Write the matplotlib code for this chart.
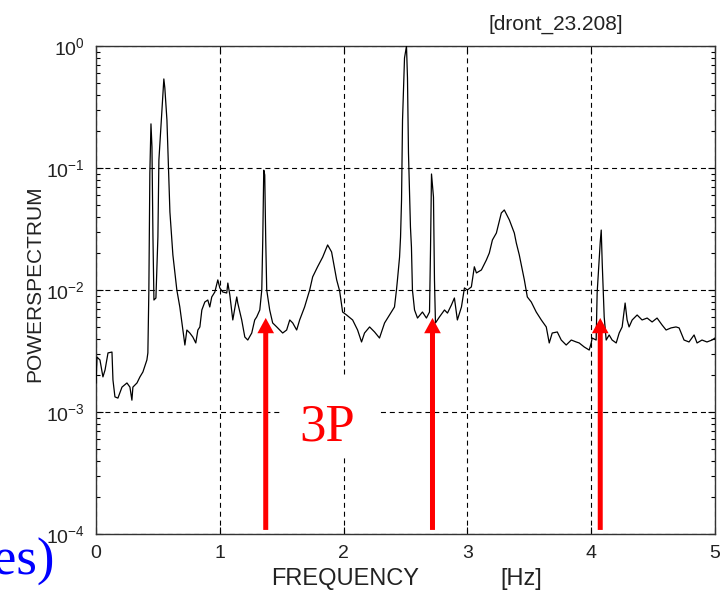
import matplotlib
matplotlib.use("Agg")
import matplotlib.pyplot as plt
from matplotlib.patches import Rectangle

plt.rcParams['font.family'] = ['Liberation Sans', 'DejaVu Sans']
plt.rcParams['mathtext.fontset'] = 'custom'
plt.rcParams['mathtext.rm'] = 'Liberation Sans'
plt.rcParams['mathtext.it'] = 'Liberation Sans:italic'
plt.rcParams['mathtext.bf'] = 'Liberation Sans:bold'

# ---- data ----
freq_hz = [
    0.000, 0.008, 0.032, 0.056, 0.073, 0.097, 0.129, 0.137, 0.153, 0.177,
    0.210, 0.250, 0.274, 0.290, 0.298, 0.331, 0.355, 0.379, 0.411, 0.419,
    0.427, 0.435, 0.444, 0.452, 0.460, 0.468, 0.484, 0.500, 0.508, 0.524,
    0.540, 0.548, 0.556, 0.573, 0.597, 0.621, 0.653, 0.677, 0.702, 0.718,
    0.734, 0.758, 0.782, 0.806, 0.823, 0.839, 0.855, 0.879, 0.903, 0.919,
    0.935, 0.960, 0.984, 1.000, 1.024, 1.056, 1.065, 1.081, 1.105, 1.137,
    1.145, 1.177, 1.202, 1.226, 1.258, 1.282, 1.298, 1.323, 1.339, 1.347,
    1.355, 1.363, 1.371, 1.379, 1.403, 1.427, 1.460, 1.484, 1.508, 1.540,
    1.565, 1.589, 1.621, 1.645, 1.685, 1.726, 1.750, 1.790, 1.831, 1.871,
    1.903, 1.944, 1.968, 1.992, 2.024, 2.073, 2.113, 2.145, 2.169, 2.210,
    2.250, 2.290, 2.331, 2.371, 2.411, 2.427, 2.435, 2.452, 2.460, 2.468,
    2.476, 2.492, 2.508, 2.516, 2.524, 2.540, 2.548, 2.556, 2.573, 2.597,
    2.637, 2.669, 2.694, 2.702, 2.710, 2.726, 2.734, 2.742, 2.774, 2.815,
    2.839, 2.871, 2.895, 2.919, 2.952, 2.976, 3.000, 3.032, 3.056, 3.073,
    3.113, 3.153, 3.177, 3.202, 3.234, 3.274, 3.298, 3.339, 3.379, 3.395,
    3.419, 3.460, 3.484, 3.516, 3.556, 3.597, 3.637, 3.661, 3.685, 3.726,
    3.758, 3.798, 3.839, 3.879, 3.903, 3.944, 3.984, 4.000, 4.008, 4.040,
    4.048, 4.073, 4.081, 4.089, 4.105, 4.121, 4.145, 4.169, 4.202, 4.226,
    4.250, 4.274, 4.290, 4.306, 4.331, 4.371, 4.411, 4.452, 4.492, 4.532,
    4.573, 4.605, 4.645, 4.685, 4.710, 4.750, 4.790, 4.831, 4.855, 4.895,
    4.935, 4.976, 5.000,
]
power = [
    1.73e-3, 2.82e-3, 2.67e-3, 1.94e-3, 2.21e-3, 3.05e-3, 3.10e-3, 1.83e-3, 1.33e-3, 1.30e-3,
    1.60e-3, 1.73e-3, 1.60e-3, 1.25e-3, 1.60e-3, 1.73e-3, 1.94e-3, 2.13e-3, 2.67e-3, 3.05e-3,
    1.00e-2, 0.091, 0.23, 0.149, 0.0272, 8.28e-3, 8.6e-3, 0.0272, 0.116, 0.213,
    0.382, 0.537, 0.453, 0.247, 0.0436, 0.0194, 1.00e-2, 7.26e-3, 4.70e-3, 3.54e-3,
    4.70e-3, 4.44e-3, 4.12e-3, 3.68e-3, 4.70e-3, 4.98e-3, 6.86e-3, 7.97e-3, 8.28e-3, 7.26e-3,
    8.77e-3, 9.63e-3, 1.21e-2, 1.04e-2, 9.63e-3, 9.45e-3, 1.14e-2, 9.10e-3, 5.68e-3, 8.77e-3,
    7.82e-3, 5.68e-3, 4.12e-3, 3.89e-3, 4.44e-3, 5.68e-3, 6.01e-3, 6.86e-3, 1.00e-2, 0.0257,
    0.096, 0.0877, 0.0257, 1.00e-2, 6.86e-3, 5.37e-3, 4.98e-3, 4.70e-3, 4.44e-3, 4.70e-3,
    5.68e-3, 5.37e-3, 4.70e-3, 5.68e-3, 7.26e-3, 1.00e-2, 1.28e-2, 1.55e-2, 1.86e-2, 2.34e-2,
    2.05e-2, 1.21e-2, 9.82e-3, 6.60e-3, 6.24e-3, 5.68e-3, 4.70e-3, 3.75e-3, 4.44e-3, 4.98e-3,
    4.53e-3, 4.04e-3, 5.37e-3, 6.24e-3, 7.26e-3, 1.00e-2, 1.21e-2, 1.86e-2, 0.0272, 0.0547,
    0.247, 0.797, 1.0, 0.547, 0.133, 0.0328, 0.0225, 1.00e-2, 6.86e-3, 5.89e-3,
    6.60e-3, 5.89e-3, 6.60e-3, 0.0213, 0.0893, 0.0578, 1.21e-2, 5.37e-3, 6.01e-3, 6.86e-3,
    6.47e-3, 7.54e-3, 8.6e-3, 5.68e-3, 7.26e-3, 1.04e-2, 1.00e-2, 1.06e-2, 1.55e-2, 1.38e-2,
    1.46e-2, 1.76e-2, 2.01e-2, 0.0257, 0.0293, 0.0428, 0.0453, 0.0375, 0.0293, 0.0243,
    0.0194, 1.21e-2, 8.77e-3, 7.97e-3, 6.60e-3, 5.68e-3, 4.98e-3, 3.68e-3, 4.44e-3, 4.53e-3,
    3.89e-3, 3.54e-3, 3.89e-3, 3.75e-3, 3.68e-3, 3.41e-3, 3.22e-3, 3.68e-3, 4.04e-3, 3.89e-3,
    9.45e-3, 0.0247, 0.0310, 1.66e-2, 6.01e-3, 3.89e-3, 4.28e-3, 3.89e-3, 3.68e-3, 4.44e-3,
    4.98e-3, 7.82e-3, 5.68e-3, 4.98e-3, 5.68e-3, 6.24e-3, 5.68e-3, 5.89e-3, 5.47e-3, 5.89e-3,
    5.16e-3, 4.70e-3, 4.89e-3, 4.98e-3, 4.89e-3, 3.89e-3, 3.75e-3, 4.28e-3, 3.68e-3, 3.89e-3,
    3.75e-3, 3.89e-3, 4.04e-3,
]

# 3P harmonics marked with arrows
arrow_freqs = [1.371, 2.718, 4.073]
arrow_tip = 5.9e-3
arrow_base = 1.08e-4

x_ticks = [0, 1, 2, 3, 4, 5]
y_ticks = [1e-4, 1e-3, 1e-2, 1e-1, 1e0]
y_tick_labels = [r'$\mathregular{10^{-4}}$', r'$\mathregular{10^{-3}}$',
                 r'$\mathregular{10^{-2}}$', r'$\mathregular{10^{-1}}$',
                 r'$\mathregular{10^{0}}$']

# ---- figure ----
fig = plt.figure(figsize=(7.23, 5.92), dpi=100)
ax = fig.add_axes([96/723, 1-534/592, 619/723, 488/592])

ax.plot(freq_hz, power, color='black', lw=0.9, zorder=3)

ax.set_yscale('log')
ax.set_xlim(0, 5)
ax.set_ylim(1e-4, 1e0)
ax.set_xticks(x_ticks)
ax.set_xticklabels([str(t) for t in x_ticks])
ax.set_yticks(y_ticks)
ax.set_yticklabels(y_tick_labels)

ax.grid(True, which='major', color='black', lw=0.8, linestyle=(0, (4.5, 3.5)))
ax.tick_params(which='both', direction='in', top=True, right=True,
               labelsize=14, width=0.8, labelcolor='#222222')
ax.tick_params(which='major', length=5, pad=8)
ax.tick_params(which='minor', length=3)
ax.tick_params(axis='x', which='minor', bottom=False, top=False)
for s in ax.spines.values():
    s.set_linewidth(1.0)
    s.set_color('#333333')

# white box behind 3P label
ax.add_patch(Rectangle((0.297, 0.1557), 0.1616, 0.170, transform=ax.transAxes,
                       facecolor='white', edgecolor='none', zorder=4))
ax.text(0.373, 0.1926, '3P', transform=ax.transAxes, ha='center', va='baseline',
        color='#ff0000', fontsize=38, family=['Liberation Serif', 'DejaVu Serif'],
        zorder=5)

for f in arrow_freqs:
    ax.annotate('', xy=(f, arrow_tip), xytext=(f, arrow_base),
                arrowprops=dict(facecolor='#ff0000', edgecolor='none', width=3.6,
                                headwidth=12, headlength=11, shrink=0),
                zorder=6)

# axis labels and title
fig.text(345/723, 1-585/592, 'FREQUENCY', ha='center',
         va='baseline', fontsize=17, color='#222222')
fig.text(521/723, 1-585/592, '[Hz]', ha='center', va='baseline', fontsize=17,
         color='#222222')
fig.text(35/723, 1-284/592, 'POWERSPECTRUM', rotation=90, ha='center',
         va='center', fontsize=15, color='#222222')
fig.text(556/723, 1-30/592, '[dront_23.208]', ha='center', va='baseline',
         fontsize=15, color='#222222')

fig.text(55/723, 1-575/592, 'es)', ha='right', va='baseline', color='#0000ff',
         fontsize=38, family=['Liberation Serif', 'DejaVu Serif'])

fig.savefig('out.png', dpi=100)
